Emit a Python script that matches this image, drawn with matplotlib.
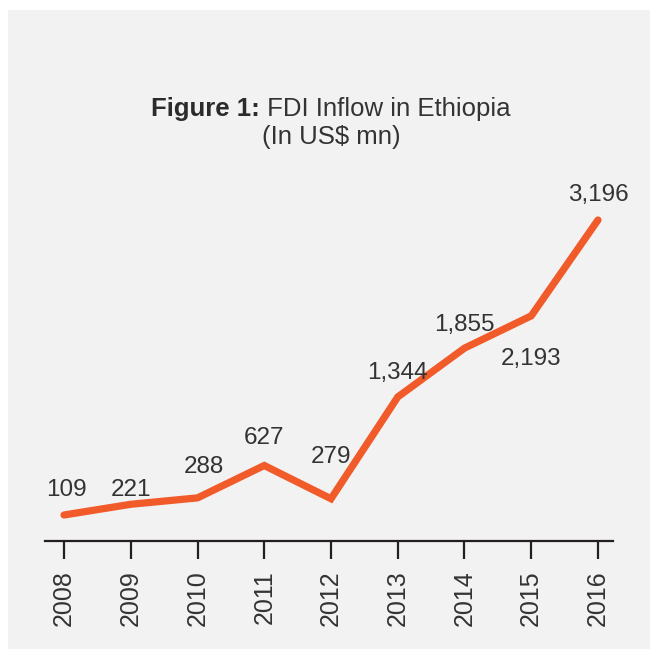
import matplotlib
matplotlib.use("Agg")
import matplotlib.pyplot as plt
from matplotlib.patches import Rectangle

# ---- data ----
years = [2008, 2009, 2010, 2011, 2012, 2013, 2014, 2015, 2016]
fdi = [109, 221, 288, 627, 279, 1344, 1855, 2193, 3196]
labels = ["109", "221", "288", "627", "279", "1,344", "1,855", "2,193", "3,196"]
title_bold = "Figure 1:"
title_rest = " FDI Inflow in Ethiopia"
subtitle = "(In US$ mn)"

# label offsets in pixels (style)
label_dx = [2, 0, 6, 0, 0, 0, 0, 0, 0]
label_dy = [25, 14, 31, 27, 42, 24, 23, -43, 25]

W, H = 650, 649
BG = "#f2f2f2"
TXT = "#333333"
ORANGE = "#f15a29"
FONT = "Liberation Sans"
plt.rcParams["font.family"] = [FONT, "DejaVu Sans"]

fig = plt.figure(figsize=(W / 100, H / 100), dpi=100, facecolor="white")
fig.patches.append(Rectangle((8 / W, 0), 1 - 8 / W, 1 - 10 / H, transform=fig.transFigure,
                             facecolor=BG, edgecolor="none", zorder=-10))

ax = fig.add_axes([45 / W, (H - 541) / H, (613 - 45) / W, (541 - 150) / H])
ax.set_zorder(5)
ax.set_facecolor("none")
ax.plot(years, fdi, color=ORANGE, lw=5.2, solid_capstyle="round", solid_joinstyle="miter", zorder=3)
ax.set_xlim(2007.715, 2016.225)
ax.set_ylim(-163.2, 3928.5)

for s in ["top", "right", "left"]:
    ax.spines[s].set_visible(False)
ax.spines["bottom"].set_linewidth(1.6)
ax.spines["bottom"].set_color("#231f20")
ax.set_yticks([])
ax.set_xticks(years)
ax.set_xticklabels([str(y) for y in years], rotation=90, fontsize=18, color=TXT)
ax.tick_params(axis="x", direction="out", length=13, width=1.6, color="#231f20", pad=8)

for x, y, lab, dx, dy in zip(years, fdi, labels, label_dx, label_dy):
    ax.annotate(lab, (x, y), xytext=(dx, dy), textcoords="offset pixels",
                ha="center", va="center", fontsize=17.5, color=TXT, zorder=4)

# title
renderer = fig.canvas.get_renderer()
tb = fig.text(0, 0, title_bold, fontsize=18.5, fontweight="bold", color="#2b2b2b", va="baseline", ha="left")
tr = fig.text(0, 0, title_rest, fontsize=18.5, color=TXT, va="baseline", ha="left")
wb = tb.get_window_extent(renderer).width
wr = tr.get_window_extent(renderer).width
cx = 331
x0 = cx - (wb + wr) / 2
y1 = (H - 116) / H
tb.set_position((x0 / W, y1))
tr.set_position(((x0 + wb) / W, y1))
fig.text(cx / W, (H - 144) / H, subtitle, fontsize=18.5, color=TXT, va="baseline", ha="center")

fig.savefig("out.png", dpi=100, facecolor="white")
